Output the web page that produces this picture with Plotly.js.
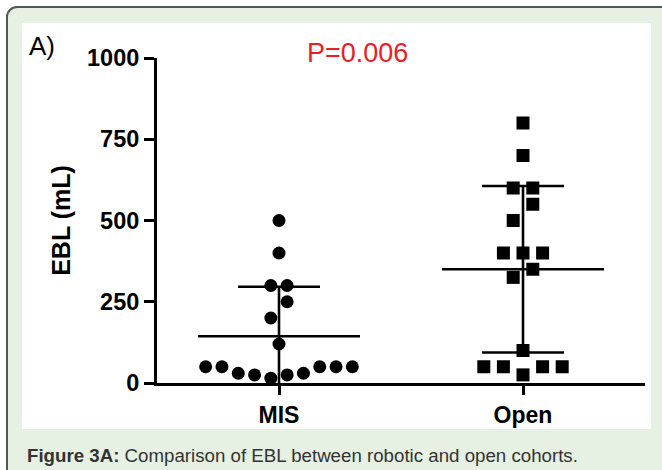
<!DOCTYPE html>
<html>
<head>
<meta charset="utf-8">
<script src="https://cdn.plot.ly/plotly-3.0.1.min.js"></script>
<style>
  html, body { margin: 0; padding: 0; width: 662px; height: 470px; overflow: hidden; background: #ffffff; }
  #frame { position: absolute; left: 6px; top: 6px; width: 720px; height: 520px;
           background: #e6f1e4; border-left: 2px solid #555; border-top: 2px solid #555;
           border-top-left-radius: 11px; box-sizing: border-box; }
  #inner { position: absolute; left: 22px; top: 23px; width: 629px; height: 406px; background: #ffffff; }
  #chart { position: absolute; left: 0; top: 0; width: 662px; height: 470px; }
</style>
</head>
<body>
<div id="frame"></div>
<div id="inner"></div>
<div id="chart"></div>
<script>
// ---- data ----
const categories = ["MIS", "Open"];
const misValues  = [500, 400, 300, 300, 250, 200, 120, 50, 50, 30, 25, 15, 25, 30, 50, 50, 50];
const openValues = [800, 700, 600, 600, 550, 500, 400, 400, 400, 350, 325, 100, 50, 50, 25, 50, 50];
const yTickValues = [0, 250, 500, 750, 1000];
const pValueText = "P=0.006";
const panelLabel = "A)";
const captionBold = "Figure 3A:";
const captionText = " Comparison of EBL between robotic and open cohorts.";
const yAxisTitle = "EBL (mL)";

// ---- layout constants ----
const W = 662, H = 470;
const M = { l: 157, r: 17, t: 58, b: 87 };
const plotW = W - M.l - M.r, plotH = H - M.t - M.b;
const xRange = [-0.5, 1.5], yRange = [0, 1000];
const pxPerX = plotW / (xRange[1] - xRange[0]);
const pxPerY = plotH / (yRange[1] - yRange[0]);
const FONT = "Arial, 'Liberation Sans', Helvetica, sans-serif";

// beeswarm-like horizontal spreading computed from values
function swarmOffsets(values, stepPx, rowPx) {
  const idx = values.map((v, i) => i).sort((a, b) => values[a] - values[b]);
  const rows = [];
  let cur = null, start = null;
  idx.forEach(i => {
    const v = values[i];
    if (cur === null || (v - start) * pxPerY > rowPx) { cur = []; rows.push(cur); start = v; }
    cur.push(i);
  });
  const off = new Array(values.length).fill(0);
  rows.forEach(row => {
    const n = row.length;
    const order = [];
    if (n % 2 === 1) {
      const c = (n - 1) / 2; order.push(c);
      for (let k = 1; order.length < n; k++) { order.push(c - k); if (order.length < n) order.push(c + k); }
    } else {
      for (let k = 0; order.length < n; k++) { order.push(n / 2 - 1 - k); order.push(n / 2 + k); }
    }
    row.forEach((i, j) => {
      const pos = order[j];
      off[i] = (pos - (n - 1) / 2) * stepPx / pxPerX;
    });
  });
  return off;
}
function mean(a) { return a.reduce((s, v) => s + v, 0) / a.length; }
function sd(a) { const m = mean(a); return Math.sqrt(a.reduce((s, v) => s + (v - m) * (v - m), 0) / (a.length - 1)); }

const misOff = swarmOffsets(misValues, 16.3, 17);
const openOff = swarmOffsets(openValues, 19.6, 17);

const traces = [];
traces.push({
  type: "scatter", mode: "markers", x: misValues.map((v, i) => 0 + misOff[i]), y: misValues,
  marker: { symbol: "circle", size: 13, color: "#000" }, cliponaxis: false, hoverinfo: "y"
});
traces.push({
  type: "scatter", mode: "markers", x: openValues.map((v, i) => 1 + openOff[i]), y: openValues,
  marker: { symbol: "square", size: 13, color: "#000" }, cliponaxis: false, hoverinfo: "y"
});

// mean and SD lines
const meanHalf = 81 / pxPerX, capHalf = 41 / pxPerX;
[misValues, openValues].forEach((vals, c) => {
  const m = mean(vals), s = sd(vals);
  const lo = m - s, hi = m + s;
  traces.push({
    type: "scatter", mode: "lines",
    x: [c - meanHalf, c + meanHalf, null, c, c, null, c - capHalf, c + capHalf, null, c - capHalf, c + capHalf],
    y: [m, m, null, lo, hi, null, hi, hi, null, lo, lo],
    line: { color: "#000", width: 2.6 }, hoverinfo: "skip"
  });
});

function px2paperX(px) { return (px - M.l) / plotW; }
function px2paperY(py) { return (H - M.b - py) / plotH; }

const layout = {
  width: W, height: H,
  margin: M,
  paper_bgcolor: "rgba(0,0,0,0)", plot_bgcolor: "rgba(0,0,0,0)",
  showlegend: false,
  font: { family: FONT, color: "#000" },
  xaxis: {
    range: xRange, tickvals: [0, 1], ticktext: categories,
    showline: true, linecolor: "#000", linewidth: 3, mirror: false,
    ticks: "outside", ticklen: 9, tickwidth: 3, tickcolor: "#000",
    showgrid: false, zeroline: false,
    tickfont: { family: FONT, size: 23, weight: "bold", color: "#000" },
    fixedrange: true
  },
  yaxis: {
    range: yRange, tickvals: yTickValues, ticktext: yTickValues.map(String),
    showline: true, linecolor: "#000", linewidth: 3,
    ticks: "outside", ticklen: 10, tickwidth: 3, tickcolor: "#000",
    showgrid: false, zeroline: false,
    tickfont: { family: FONT, size: 23.5, weight: "bold", color: "#000" },
    title: { text: yAxisTitle, font: { family: FONT, size: 25, weight: "bold", color: "#000" }, standoff: 10 },
    fixedrange: true
  },
  annotations: [
    { text: pValueText, xref: "paper", yref: "paper", x: px2paperX(357), y: px2paperY(53),
      xanchor: "center", yanchor: "middle", showarrow: false,
      font: { family: FONT, size: 27, color: "#ee1c25" } },
    { text: panelLabel, xref: "paper", yref: "paper", x: px2paperX(27), y: px2paperY(46),
      xanchor: "left", yanchor: "middle", showarrow: false,
      font: { family: FONT, size: 26, color: "#000" } },
    { text: "<b>" + captionBold + "</b>" + captionText, xref: "paper", yref: "paper",
      x: px2paperX(25), y: px2paperY(455), xanchor: "left", yanchor: "middle", showarrow: false,
      font: { family: FONT, size: 18.7, color: "#333" } }
  ]
};

Plotly.newPlot("chart", traces, layout, { displayModeBar: false, staticPlot: true });
</script>
</body>
</html>
